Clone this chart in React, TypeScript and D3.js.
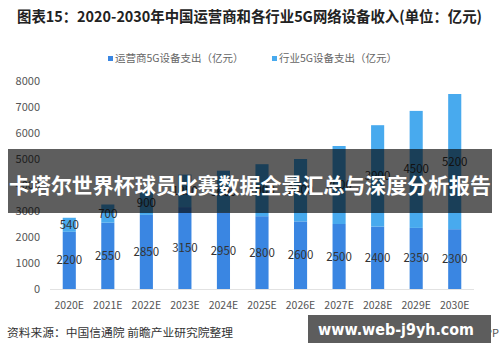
import React, { useEffect, useRef } from "react";
import * as d3 from "d3";

const years = ["2020E", "2021E", "2022E", "2023E", "2024E", "2025E", "2026E", "2027E", "2028E", "2029E", "2030E"];
const operatorSpend = [2200, 2550, 2850, 3150, 2950, 2800, 2600, 2500, 2400, 2350, 2300];
const industrySpend = [540, 700, 900, 1250, 1600, 2000, 2400, 3000, 3900, 4500, 5200];
const yTicks = [0, 1000, 2000, 3000, 4000, 5000, 6000, 7000, 8000];
const seriesNames = ["运营商5G设备支出（亿元）", "行业5G设备支出（亿元）"];
const seriesColors = ["#3a86e2", "#48aaee"];

const title = "图表15：2020-2030年中国运营商和各行业5G网络设备收入(单位：亿元)";
const sourceText = "资料来源：中国信通院 前瞻产业研究院整理";
const bannerText = "卡塔尔世界杯球员比赛数据全景汇总与深度分析报告";
const siteText = "www.web-j9yh.com";

const W = 500;
const H = 362;
const FONT = "'Noto Sans CJK SC', 'Noto Sans', sans-serif";

export default function App() {
  const ref: any = useRef();

  useEffect(() => {
    const svg = d3.select(ref.current);
    svg.selectAll("*").remove();

    svg.append("rect").attr("width", W).attr("height", H).attr("fill", "#fff");

    // title
    svg.append("text")
      .attr("x", 17).attr("y", 22)
      .attr("font-family", FONT).attr("font-size", 15).attr("font-weight", "bold")
      .attr("fill", "#222")
      .attr("textLength", 465).attr("lengthAdjust", "spacingAndGlyphs")
      .text(title);

    const x = d3.scaleBand().domain(years).range([50, 474]).paddingInner(0.66).paddingOuter(0.33);
    const y = d3.scaleLinear().domain([0, 8000]).range([289, 81]);

    // legend
    const legendX = [108, 272];
    seriesNames.forEach((name, i) => {
      svg.append("rect")
        .attr("x", legendX[i]).attr("y", 56).attr("width", 5).attr("height", 5)
        .attr("fill", seriesColors[i]);
      svg.append("text")
        .attr("x", legendX[i] + 7).attr("y", 62)
        .attr("font-family", FONT).attr("font-size", 10.5).attr("fill", "#666")
        .text(name);
    });

    // y axis labels
    svg.append("g").selectAll("text").data(yTicks).join("text")
      .attr("x", 40).attr("y", (d) => y(d) + 4)
      .attr("text-anchor", "end")
      .attr("font-family", FONT).attr("font-size", 11).attr("fill", "#555")
      .text((d) => d);

    // baseline
    svg.append("line")
      .attr("x1", 50).attr("x2", 474).attr("y1", y(0) + 0.5).attr("y2", y(0) + 0.5)
      .attr("stroke", "#e2e2e2");

    const g = svg.append("g");
    years.forEach((yr, i) => {
      const bx = x(yr) as number;
      const bw = x.bandwidth();
      const op = operatorSpend[i];
      const ind = industrySpend[i];
      g.append("rect")
        .attr("x", bx).attr("width", bw)
        .attr("y", y(op)).attr("height", y(0) - y(op))
        .attr("fill", seriesColors[0]);
      g.append("rect")
        .attr("x", bx).attr("width", bw)
        .attr("y", y(op + ind)).attr("height", y(op) - y(op + ind))
        .attr("fill", seriesColors[1]);
      g.append("text")
        .attr("x", bx + bw / 2).attr("y", y(op / 2) + 4)
        .attr("text-anchor", "middle")
        .attr("font-family", FONT).attr("font-size", 11.5).attr("fill", "#333")
        .text(op);
      g.append("text")
        .attr("x", bx + bw / 2).attr("y", y(op + ind / 2) + 4)
        .attr("text-anchor", "middle")
        .attr("font-family", FONT).attr("font-size", 11.5).attr("fill", "#333")
        .text(ind);
      g.append("text")
        .attr("x", bx + bw / 2).attr("y", 309)
        .attr("text-anchor", "middle")
        .attr("font-family", FONT).attr("font-size", 10.5).attr("fill", "#555")
        .text(yr);
    });

    // source
    svg.append("text")
      .attr("x", 7).attr("y", 337)
      .attr("font-family", FONT).attr("font-size", 11.5).attr("fill", "#333")
      .attr("textLength", 226).attr("lengthAdjust", "spacingAndGlyphs")
      .text(sourceText);
    svg.append("text")
      .attr("x", 499).attr("y", 337).attr("text-anchor", "end")
      .attr("font-family", FONT).attr("font-size", 11).attr("fill", "#555")
      .text("@前瞻经济学人APP");

    // overlay banner
    svg.append("rect")
      .attr("x", 8).attr("y", 149).attr("width", 484).attr("height", 64)
      .attr("fill", "#000").attr("fill-opacity", 0.63);
    svg.append("text")
      .attr("x", 250).attr("y", 193).attr("text-anchor", "middle")
      .attr("font-family", FONT).attr("font-size", 21).attr("font-weight", "bold")
      .attr("fill", "#fff")
      .attr("textLength", 482).attr("lengthAdjust", "spacingAndGlyphs")
      .text(bannerText);

    svg.append("rect")
      .attr("x", 308).attr("y", 315).attr("width", 183).attr("height", 28)
      .attr("fill", "#5d5d5d");
    svg.append("text")
      .attr("x", 318).attr("y", 335)
      .attr("font-family", "'DejaVu Sans', sans-serif").attr("font-size", 16).attr("font-weight", "bold")
      .attr("fill", "#fff")
      .attr("textLength", 156).attr("lengthAdjust", "spacingAndGlyphs")
      .text(siteText);
  }, []);

  return (
    <svg ref={ref} width={W} height={H} style={{ position: "absolute", left: 0, top: 0 }} />
  );
}
